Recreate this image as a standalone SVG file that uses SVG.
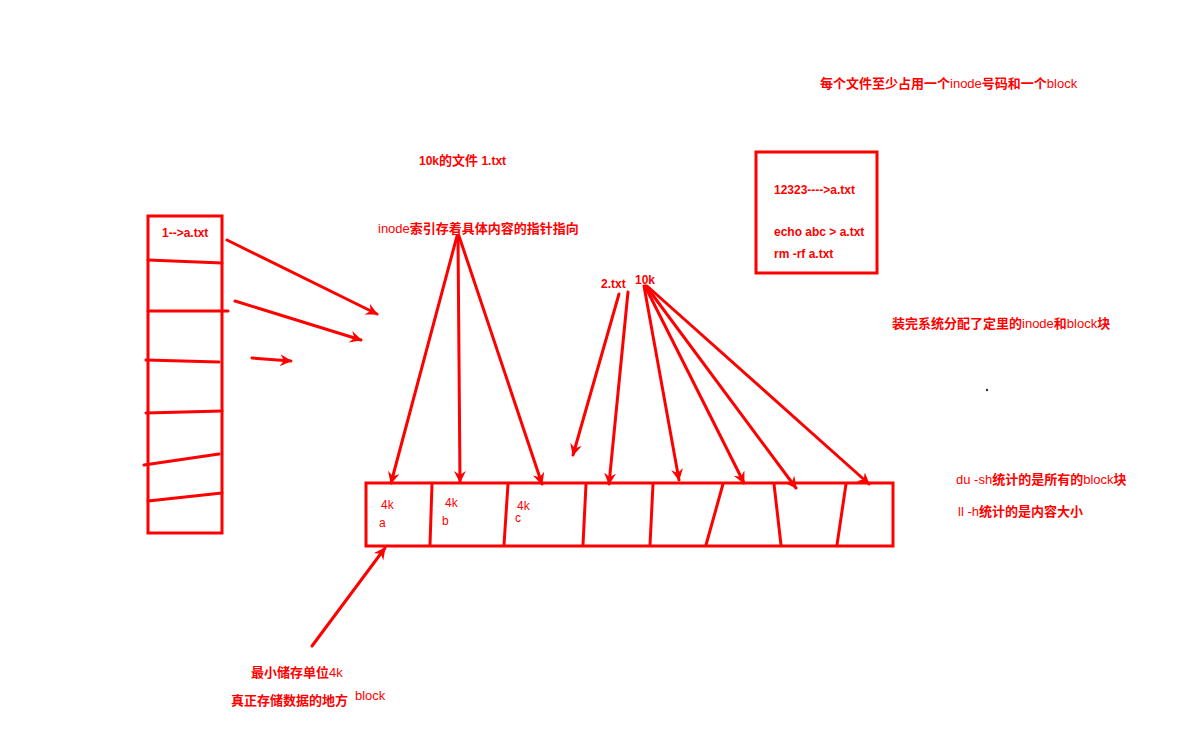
<svg xmlns="http://www.w3.org/2000/svg" width="1180" height="734" viewBox="0 0 1180 734">
<style>
.ln{stroke:#FF0000;stroke-width:3;fill:none;stroke-linecap:round}
.box{stroke:#FF0000;stroke-width:3;fill:none}
.t{font-family:"Liberation Sans","Noto Sans CJK SC",sans-serif;font-size:12px;font-weight:bold;fill:#FF0000}
.c{font-size:13px}
.n{font-weight:normal}
.b{font-size:12px}
</style>
<defs>
<marker id="ah" markerUnits="userSpaceOnUse" markerWidth="14" markerHeight="14" refX="11" refY="6" orient="auto">
<path d="M0,0 L12,6 L0,12 L4,6 z" fill="#FF0000"/>
</marker>
</defs>
<rect width="1180" height="734" fill="#FFFFFF"/>

<g id="inode-table">
<rect class="box" x="148" y="216" width="74" height="317"/>
<path class="ln" d="M148,260 L222,263 M148,311 L228,311 M146,360 L219,362 M146,413 L222,411 M144,465 L219,454 M148,501 L222,493"/>
<text class="t" x="162" y="237">1--&gt;a.txt</text>
</g>

<g id="block-row">
<rect class="box" x="366" y="483" width="527" height="63"/>
<path class="ln" d="M432,484 L430,545 M508,484 L504,545 M586,484 L583,545 M653,484 L650,545 M723,484 L706,545 M774,484 L781,545 M846,484 L837,545"/>
<text class="t n" x="381" y="509">4k</text>
<text class="t n" x="379" y="527">a</text>
<text class="t n" x="445" y="507">4k</text>
<text class="t n" x="442" y="525">b</text>
<text class="t n" x="517" y="510">4k</text>
<text class="t n" x="515" y="522">c</text>
</g>

<g id="cmd-box">
<rect class="box" x="756" y="152" width="121" height="121"/>
<text class="t" x="774" y="194">12323----&gt;a.txt</text>
<text class="t" x="774" y="236">echo abc &gt; a.txt</text>
<text class="t" x="774" y="258">rm -rf a.txt</text>
</g>

<g id="labels">
<text class="t c" x="820" y="88">每个文件至少占用一个<tspan class="n">inode</tspan>号码和一个<tspan class="n">block</tspan></text>
<text class="t c" x="419" y="165"><tspan class="b">10k</tspan>的文件<tspan class="b"> 1.txt</tspan></text>
<text class="t c" x="378" y="233"><tspan class="n">inode</tspan>索引存着具体内容的指针指向</text>
<text class="t" x="601" y="288">2.txt</text>
<text class="t" x="635" y="284">10k</text>
<text class="t c" x="892" y="328">装完系统分配了定里的<tspan class="n">inode</tspan>和<tspan class="n">block</tspan>块</text>
<text class="t c" x="956" y="484"><tspan class="n">du -sh</tspan>统计的是所有的<tspan class="n">block</tspan>块</text>
<text class="t c" x="958" y="516"><tspan class="n">ll -h</tspan>统计的是内容大小</text>
<text class="t c" x="251" y="677">最小储存单位<tspan class="n">4k</tspan></text>
<text class="t c" x="231" y="705">真正存储数据的地方</text>
<text class="t c n" x="355" y="700">block</text>
<circle cx="987" cy="390" r="1.2" fill="#333333"/>
</g>

<g id="connectors">
<path class="ln" marker-end="url(#ah)" d="M227,240 L377,314"/>
<path class="ln" marker-end="url(#ah)" d="M235,301 L361,340"/>
<path class="ln" marker-end="url(#ah)" d="M252,358 L291,361"/>
<path class="ln" marker-end="url(#ah)" d="M457,236 L391,483"/>
<path class="ln" marker-end="url(#ah)" d="M458,236 L460,482"/>
<path class="ln" marker-end="url(#ah)" d="M459,236 L542,484"/>
<path class="ln" marker-end="url(#ah)" d="M619,294 L573,455"/>
<path class="ln" marker-end="url(#ah)" d="M628,292 L609,484"/>
<path class="ln" marker-end="url(#ah)" d="M644,286 L679,480"/>
<path class="ln" marker-end="url(#ah)" d="M645,286 L744,483"/>
<path class="ln" marker-end="url(#ah)" d="M646,286 L796,488"/>
<path class="ln" marker-end="url(#ah)" d="M647,286 L869,484"/>
<path class="ln" marker-end="url(#ah)" d="M312,646 L385,548"/>
</g>
</svg>
